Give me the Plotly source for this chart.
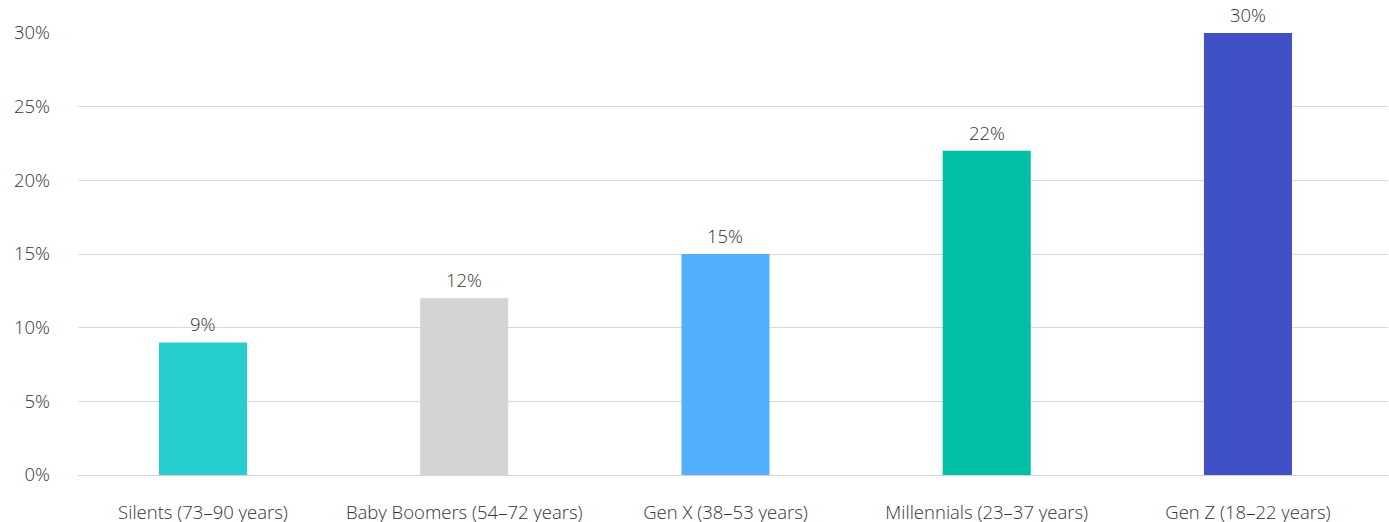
import plotly.graph_objects as go

categories = ["Silents (73\u201390 years)", "Baby Boomers (54\u201372 years)", "Gen X (38\u201353 years)",
              "Millennials (23\u201337 years)", "Gen Z (18\u201322 years)"]
values = [9, 12, 15, 22, 30]
labels = ["9%", "12%", "15%", "22%", "30%"]
colors = ["#26CFCE", "#D4D4D4", "#52AFFE", "#01BFA5", "#3F51C5"]
ytick_vals = [0, 5, 10, 15, 20, 25, 30]
ytick_text = ["0%", "5%", "10%", "15%", "20%", "25%", "30%"]

FONT = "Open Sans"
TXT = "#333333"
SIZE = 18.5

fig = go.Figure(go.Bar(
    x=categories, y=values, marker_color=colors, marker_line_width=0,
    hoverinfo="x+y",
))

for c, v, t in zip(categories, values, labels):
    fig.add_annotation(x=c, y=v, text=t, showarrow=False, yanchor="bottom", yshift=4,
                       font=dict(family=FONT, size=SIZE, color=TXT, weight=300))

fig.update_layout(
    width=1389, height=522,
    margin=dict(l=78, r=1, t=33, b=47),
    paper_bgcolor="white", plot_bgcolor="white",
    bargap=0.663, showlegend=False,
    font=dict(family=FONT, size=SIZE, color=TXT, weight=300),
)
fig.update_xaxes(range=[-0.4785, 4.536], showgrid=False, ticks="", ticklabelstandoff=24,
                 showline=False, zeroline=False, automargin=False,
                 tickfont=dict(family=FONT, size=SIZE, color=TXT, weight=300))
fig.update_yaxes(range=[0, 30], tickvals=ytick_vals, ticktext=ytick_text, showgrid=True,
                 gridcolor="#D9D9D9", gridwidth=1, zeroline=True, zerolinecolor="#D6D6D6",
                 zerolinewidth=1, ticks="", ticklabelstandoff=27, showline=False, automargin=False,
                 tickfont=dict(family=FONT, size=SIZE, color=TXT, weight=300))

fig.write_html("out.html", config={"displayModeBar": False},
               post_script="document.body.style.margin='0';")
